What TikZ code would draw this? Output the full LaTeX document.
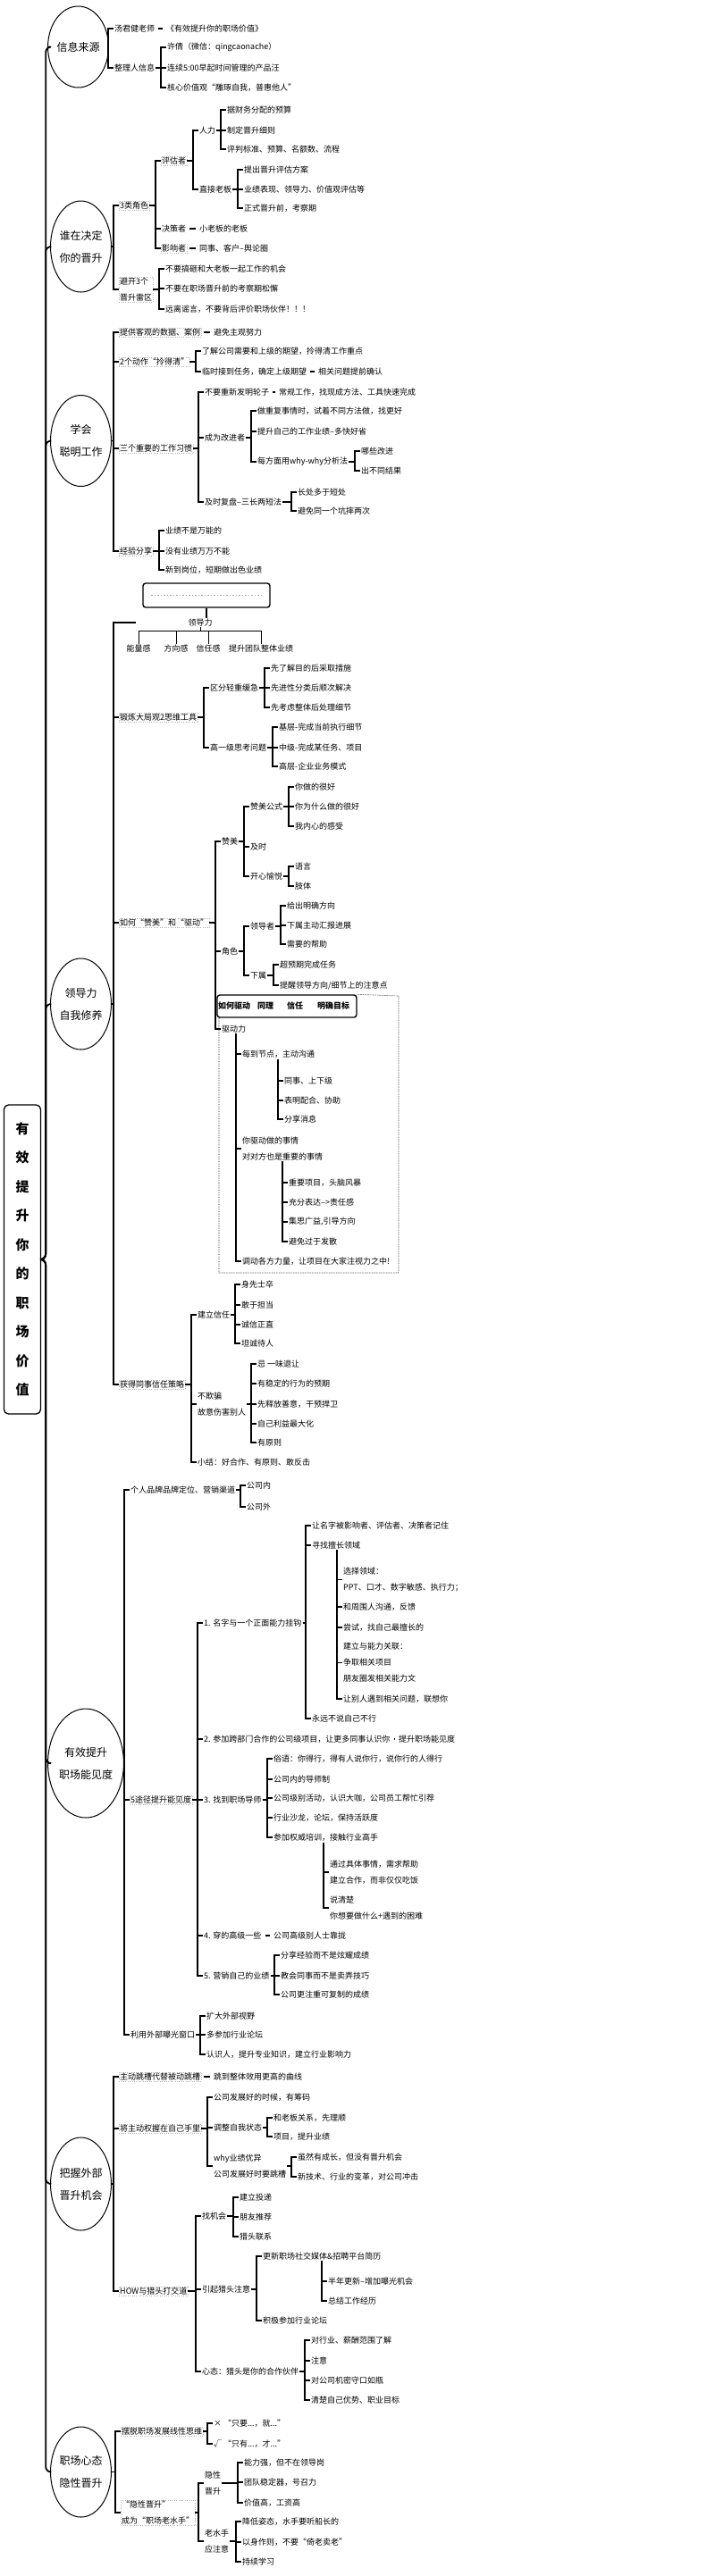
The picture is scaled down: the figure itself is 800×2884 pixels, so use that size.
\documentclass[tikz,border=0pt]{standalone}
\usepackage{fontspec}
\setmainfont{Noto Sans CJK SC}
\usetikzlibrary{calc,shapes.geometric}

\tikzset{
  t/.style={anchor=west,inner sep=1pt,align=left,font=\fontsize{9}{18}\selectfont},
  sel/.style={draw=gray!60,dotted},
  hub/.style={ellipse,draw,line width=1pt,inner sep=0,align=center,font=\fontsize{12}{25}\selectfont},
  root/.style={draw,line width=1.3pt,rounded corners=5pt,inner sep=0,align=center,minimum width=41pt,minimum height=346pt,font=\fontsize{15}{32.5}\selectfont\bfseries},
  br/.style={line width=1.2pt},
  dsh/.style={line width=1.4pt,shorten <=3pt,shorten >=3pt},
  trunk/.style={line width=1.8pt,rounded corners=6pt},
  pt/.style={inner sep=0,minimum size=0},
  frame/.style={densely dotted,line width=0.6pt},
  tab/.style={draw,line width=1.4pt,rounded corners=3pt},
  tabtxt/.style={anchor=west,inner sep=0,font=\fontsize{9}{11}\selectfont\bfseries}
}
\newcommand\brk[2]{\foreach \ch in {#2}{\draw[br] (#1.east) -- ($(#1.east -| \ch.west)+(-6,0)$) |- (\ch.west);}}
\newcommand\hang[2]{\foreach \ch in {#2}{\draw[br] ($(#1.south west -| \ch.west)+(-6,0)$) |- (\ch.west);}}

\begin{document}
\begin{tikzpicture}[x=1pt,y=-1pt]
\useasboundingbox (0,0) rectangle (800,2884);

\node[root] (root) at (25,1410) {有\\效\\提\\升\\你\\的\\职\\场\\价\\值};

\node[hub,minimum width=61pt,minimum height=91pt] (m1) at (87.5,52.5) {信息来源};
\node[hub,minimum width=67pt,minimum height=102pt] (m2) at (90.5,276) {谁在决定\\你的晋升};
\node[hub,minimum width=67pt,minimum height=102pt] (m3) at (90.5,493.5) {学会\\聪明工作};
\node[hub,minimum width=67pt,minimum height=102pt] (m4) at (90.5,1124) {领导力\\自我修养};
\node[hub,minimum width=78pt,minimum height=122pt] (m5) at (96,1974) {有效提升\\职场能见度};
\node[hub,minimum width=67pt,minimum height=104pt] (m6) at (90.5,2445) {把握外部\\晋升机会};
\node[hub,minimum width=67pt,minimum height=101pt] (m7) at (90.5,2767.5) {职场心态\\隐性晋升};
\foreach \m in {m1,m2,m3,m4,m5,m6,m7}
  \draw[trunk] (root.east) -- ++(5,0) |- (\m.west);

% 信息来源
\node[t] (a1) at (127,32) {汤君健老师};
\node[t] (a11) at (185,32) {《有效提升你的职场价值》};
\node[t] (a2) at (127,76) {整理人信息};
\node[t] (a21) at (186,53) {许倩（微信：qingcaonache）};
\node[t] (a22) at (186,76) {连续5:00早起时间管理的产品汪};
\node[t] (a23) at (186,98) {核心价值观“雕琢自我，普惠他人”};
\brk{m1}{a1,a2}
\draw[dsh] (a1) -- (a11);
\brk{a2}{a21,a22,a23}

% 谁在决定你的晋升
\node[t,sel] (b1) at (133,230) {3类角色};
\node[t,sel] (b2) at (133,324) {避开3个\\晋升雷区};
\brk{m2}{b1,b2}
\node[t,sel] (b11) at (180,180) {评估者};
\node[t] (b12) at (180,256) {决策者};
\node[t] (b12a) at (222,256) {小老板的老板};
\node[t,sel] (b13) at (180,278) {影响者};
\node[t] (b13a) at (222,278) {同事、客户--舆论圈};
\brk{b1}{b11,b12,b13}
\draw[dsh] (b12) -- (b12a);
\draw[dsh] (b13) -- (b13a);
\node[t] (b111) at (222,146) {人力};
\node[t] (b112) at (222,212) {直接老板};
\brk{b11}{b111,b112}
\node[t] (b1111) at (253,123) {据财务分配的预算};
\node[t] (b1112) at (253,146) {制定晋升细则};
\node[t] (b1113) at (253,167) {评判标准、预算、名额数、流程};
\brk{b111}{b1111,b1112,b1113}
\node[t] (b1121) at (272,190) {提出晋升评估方案};
\node[t] (b1122) at (272,212) {业绩表现、领导力、价值观评估等};
\node[t] (b1123) at (272,233) {正式晋升前，考察期};
\brk{b112}{b1121,b1122,b1123}
\node[t] (b21) at (184,301) {不要搞砸和大老板一起工作的机会};
\node[t] (b22) at (184,323) {不要在职场晋升前的考察期松懈};
\node[t] (b23) at (184,346) {远离谣言，不要背后评价职场伙伴！！！};
\brk{b2}{b21,b22,b23}

% 学会聪明工作
\node[t,sel] (c1) at (133,372) {提供客观的数据、案例};
\node[t] (c1a) at (238,372) {避免主观努力};
\node[t,sel] (c2) at (133,405) {2个动作“拎得清”};
\node[t,sel] (c3) at (133,502) {三个重要的工作习惯};
\node[t,sel] (c4) at (133,617) {经验分享};
\brk{m3}{c1,c2,c3,c4}
\draw[dsh] (c1) -- (c1a);
\node[t] (c21) at (225,393) {了解公司需要和上级的期望，拎得清工作重点};
\node[t] (c22) at (225,416) {临时接到任务，确定上级期望};
\node[t] (c22a) at (355,416) {相关问题提前确认};
\brk{c2}{c21,c22}
\draw[dsh] (c22) -- (c22a);
\node[t] (c31) at (228,439) {不要重新发明轮子};
\node[t] (c31a) at (311,439) {常规工作，找现成方法、工具快速完成};
\node[t] (c32) at (228,490) {成为改进者};
\node[t] (c33) at (228,562) {及时复盘--三长两短法};
\brk{c3}{c31,c32,c33}
\draw[dsh] (c31) -- (c31a);
\node[t] (c321) at (287,460) {做重复事情时，试着不同方法做，找更好};
\node[t] (c322) at (287,483) {提升自己的工作业绩--多快好省};
\node[t] (c323) at (287,517) {每方面用why-why分析法};
\brk{c32}{c321,c322,c323}
\node[t] (c3231) at (403,505) {哪些改进};
\node[t] (c3232) at (403,527) {出不同结果};
\brk{c323}{c3231,c3232}
\node[t] (c331) at (332,551) {长处多于短处};
\node[t] (c332) at (332,572) {避免同一个坑摔两次};
\brk{c33}{c331,c332}
\node[t] (c41) at (184,594) {业绩不是万能的};
\node[t] (c42) at (184,617) {没有业绩万万不能};
\node[t] (c43) at (184,638) {新到岗位，短期做出色业绩};
\brk{c4}{c41,c42,c43}

% 领导力自我修养
\node[tab,minimum width=142pt,minimum height=27pt] (box1) at (231,666.5) {};
\draw[gray!70,dotted,line width=1.5pt] ($(box1.west)+(10,0)$) -- ($(box1.east)+(-10,0)$);
\node[t,anchor=center] (ld) at (224,697) {领导力};
\node[pt] (ld0) at (152,697) {};
\draw[br] (box1.south) -- (box1.south |- ld.north);
\draw[br] (m4.east) -| ($(ld0)+(-25,0)$) -- (ld0);
\node[t,anchor=center] (ld1) at (155,726) {能量感};
\node[t,anchor=center] (ld2) at (197,726) {方向感};
\node[t,anchor=center] (ld3) at (233,726) {信任感};
\node[t,anchor=center] (ld4) at (292,726) {提升团队整体业绩};
\foreach \ch in {ld1,ld2,ld3,ld4}
  \draw[line width=0.8pt] (ld.south) -- ++(0,4) -| (\ch.north);

\node[t,sel] (d2) at (133,803) {锻炼大局观2思维工具};
\node[t,sel] (d3) at (133,1033) {如何“赞美”和“驱动”};
\node[t,sel] (d4) at (133,1550) {获得同事信任策略};
\brk{m4}{d2,d3,d4}
\node[t] (d21) at (234,770) {区分轻重缓急};
\node[t] (d22) at (234,837) {高一级思考问题};
\brk{d2}{d21,d22}
\node[t] (d211) at (302,748) {先了解目的后采取措施};
\node[t] (d212) at (302,770) {先进性分类后顺次解决};
\node[t] (d213) at (302,792) {先考虑整体后处理细节};
\brk{d21}{d211,d212,d213}
\node[t] (d221) at (311,814) {基层-完成当前执行细节};
\node[t] (d222) at (311,837) {中级-完成某任务、项目};
\node[t] (d223) at (311,858) {高层-企业业务模式};
\brk{d22}{d221,d222,d223}

\node[t] (d31) at (247,942) {赞美};
\node[t] (d32) at (247,1065) {角色};
\node[t] (d33) at (247,1152) {驱动力};
\brk{d3}{d31,d32,d33}
\node[t] (d311) at (279,903) {赞美公式};
\node[t] (d312) at (279,948) {及时};
\node[t] (d313) at (279,981) {开心愉悦};
\brk{d31}{d311,d312,d313}
\node[t] (d3111) at (329,881) {你做的很好};
\node[t] (d3112) at (329,903) {你为什么做的很好};
\node[t] (d3113) at (329,925) {我内心的感受};
\brk{d311}{d3111,d3112,d3113}
\node[t] (d3131) at (329,970) {语言};
\node[t] (d3132) at (329,992) {肢体};
\brk{d313}{d3131,d3132}
\node[t] (d321) at (279,1037) {领导者};
\node[t] (d322) at (279,1092) {下属};
\brk{d32}{d321,d322}
\node[t] (d3211) at (320,1014) {给出明确方向};
\node[t] (d3212) at (320,1036) {下属主动汇报进展};
\node[t] (d3213) at (320,1057) {需要的帮助};
\brk{d321}{d3211,d3212,d3213}
\node[t] (d3221) at (312,1080) {超预期完成任务};
\node[t] (d3222) at (312,1103) {提醒领导方向/细节上的注意点};
\brk{d322}{d3221,d3222}

\node[tab,minimum width=156pt,minimum height=25pt] (box2) at (321,1126.5) {};
\node[tabtxt] (q1) at (244,1126.5) {如何驱动};
\node[tabtxt] (q2) at (288,1126.5) {同理};
\node[tabtxt] (q3) at (321,1126.5) {信任};
\node[tabtxt] (q4) at (355,1126.5) {明确目标};
\draw[frame] (box2.north east) -- (446,1115) -- (446,1425) -- (245,1425) -- (245,1139);
\node[t] (d331) at (270,1180) {每到节点，主动沟通};
\node[t] (d332) at (270,1286) {你驱动做的事情\\对对方也是重要的事情};
\node[t] (d333) at (270,1412) {调动各方力量，让项目在大家注视力之中!};
\hang{d33}{d331,d332,d333}
\node[t] (d3311) at (317,1210) {同事、上下级};
\node[t] (d3312) at (317,1232) {表明配合、协助};
\node[t] (d3313) at (317,1253) {分享消息};
\hang{d331}{d3311,d3312,d3313}
\node[t] (d3321) at (322,1324) {重要项目，头脑风暴};
\node[t] (d3322) at (322,1346) {充分表达-->责任感};
\node[t] (d3323) at (322,1368) {集思广益,引导方向};
\node[t] (d3324) at (322,1390) {避免过于发散};
\hang{d332}{d3321,d3322,d3323,d3324}

\node[t] (d41) at (220,1472) {建立信任};
\node[t] (d42) at (220,1572) {不欺骗\\故意伤害别人};
\node[t] (d43) at (220,1637) {小结：好合作、有原则、敢反击};
\brk{d4}{d41,d42,d43}
\node[t] (d411) at (269,1438) {身先士卒};
\node[t] (d412) at (269,1461) {敢于担当};
\node[t] (d413) at (269,1483) {诚信正直};
\node[t] (d414) at (269,1504) {坦诚待人};
\brk{d41}{d411,d412,d413,d414}
\node[t] (d421) at (287,1527) {忌 一味退让};
\node[t] (d422) at (287,1549) {有稳定的行为的预期};
\node[t] (d423) at (287,1572) {先释放善意，干预捍卫};
\node[t] (d424) at (287,1594) {自己利益最大化};
\node[t] (d425) at (287,1615) {有原则};
\brk{d42}{d421,d422,d423,d424,d425}

% 有效提升职场能见度
\node[t] (e1) at (145,1668) {个人品牌品牌定位、营销渠道};
\node[t,sel] (e2) at (145,2015) {5途径提升能见度};
\node[t] (e3) at (145,2278) {利用外部曝光窗口};
\brk{m5}{e1,e2,e3}
\node[t] (e11) at (275,1663) {公司内};
\node[t] (e12) at (275,1687) {公司外};
\brk{e1}{e11,e12}
\node[t] (e21) at (227,1817) {1. 名字与一个正面能力挂钩};
\node[t] (e22) at (227,1947) {2. 参加跨部门合作的公司级项目，让更多同事认识你};
\node[t] (e22a) at (445,1947) {提升职场能见度};
\node[t] (e23) at (227,2015) {3. 找到职场导师};
\node[t] (e24) at (227,2167) {4. 穿的高级一些};
\node[t] (e24a) at (305,2167) {公司高级别人士靠拢};
\node[t] (e25) at (227,2212) {5. 营销自己的业绩};
\brk{e2}{e21,e22,e23,e24,e25}
\draw[dsh] (e22) -- (e22a);
\draw[dsh] (e24) -- (e24a);
\node[t] (e211) at (348,1708) {让名字被影响者、评估者、决策者记住};
\node[t] (e212) at (348,1730) {寻找擅长领域};
\node[t] (e213) at (348,1924) {永远不说自己不行};
\brk{e21}{e211,e212,e213}
\node[t] (e2121) at (383,1768.5) {选择领域：\\PPT、口才、数字敏感、执行力；};
\node[t] (e2122) at (383,1799) {和周围人沟通，反馈};
\node[t] (e2123) at (383,1822) {尝试，找自己最擅长的};
\node[t] (e2124) at (383,1861.5) {建立与能力关联：\\争取相关项目\\朋友圈发相关能力文};
\node[t] (e2125) at (383,1902) {让别人遇到相关问题，联想你};
\hang{e212}{e2121,e2122,e2123,e2124,e2125}
\node[t] (e231) at (305,1969) {俗语：你得行，得有人说你行，说你行的人得行};
\node[t] (e232) at (305,1992) {公司内的导师制};
\node[t] (e233) at (305,2013) {公司级别活动，认识大咖，公司员工帮忙引荐};
\node[t] (e234) at (305,2035) {行业沙龙，论坛，保持活跃度};
\node[t] (e235) at (305,2057) {参加权威培训，接触行业高手};
\brk{e23}{e231,e232,e233,e234,e235}
\node[t] (e2351) at (368,2096) {通过具体事情，需求帮助\\建立合作，而非仅仅吃饭};
\node[t] (e2352) at (368,2136) {说清楚\\你想要做什么+遇到的困难};
\hang{e235}{e2351,e2352}
\node[t] (e251) at (313,2189) {分享经验而不是炫耀成绩};
\node[t] (e252) at (313,2212) {教会同事而不是卖弄技巧};
\node[t] (e253) at (313,2233) {公司更注重可复制的成绩};
\brk{e25}{e251,e252,e253}
\node[t] (e31) at (230,2257) {扩大外部视野};
\node[t] (e32) at (230,2278) {多参加行业论坛};
\node[t] (e33) at (230,2300) {认识人，提升专业知识，建立行业影响力};
\brk{e3}{e31,e32,e33}

% 把握外部晋升机会
\node[t,sel] (f1) at (133,2325) {主动跳槽代替被动跳槽};
\node[t] (f1a) at (238,2325) {跳到整体效用更高的曲线};
\node[t,sel] (f2) at (133,2383) {将主动权握在自己手里};
\node[t,sel] (f3) at (133,2565) {HOW与猎头打交道};
\brk{m6}{f1,f2,f3}
\draw[dsh] (f1) -- (f1a);
\node[t] (f21) at (238,2348) {公司发展好的时候，有筹码};
\node[t] (f22) at (238,2382) {调整自我状态};
\node[t] (f23) at (238,2425) {why业绩优异\\公司发展好时要跳槽};
\brk{f2}{f21,f22,f23}
\node[t] (f221) at (305,2371) {和老板关系，先理顺};
\node[t] (f222) at (305,2392) {项目，提升业绩};
\brk{f22}{f221,f222}
\node[t] (f231) at (332,2415) {虽然有成长，但没有晋升机会};
\node[t] (f232) at (332,2437) {新技术、行业的变革，对公司冲击};
\brk{f23}{f231,f232}
\node[t] (f31) at (225,2481) {找机会};
\node[t] (f32) at (225,2563) {引起猎头注意};
\node[t] (f33) at (225,2655) {心态：猎头是你的合作伙伴};
\brk{f3}{f31,f32,f33}
\node[t] (f311) at (267,2460) {建立投递};
\node[t] (f312) at (267,2482) {朋友推荐};
\node[t] (f313) at (267,2504) {猎头联系};
\brk{f31}{f311,f312,f313}
\node[t] (f321) at (293,2526) {更新职场社交媒体\&招聘平台简历};
\node[t] (f322) at (293,2598) {积极参加行业论坛};
\brk{f32}{f321,f322}
\node[t] (f3211) at (366,2554) {半年更新--增加曝光机会};
\node[t] (f3212) at (366,2576) {总结工作经历};
\hang{f321}{f3211,f3212}
\node[t] (f331) at (347,2620) {对行业、薪酬范围了解};
\node[t] (f332) at (347,2643) {注意};
\node[t] (f333) at (347,2665) {对公司机密守口如瓶};
\node[t] (f334) at (347,2687) {清楚自己优势、职业目标};
\brk{f33}{f331,f332,f333,f334}

% 职场心态隐性晋升
\node[t,sel] (g1) at (135,2722) {摆脱职场发展线性思维};
\node[t,sel] (g2) at (135,2813) {“隐性晋升”\\成为“职场老水手”};
\brk{m7}{g1,g2}
\node[t] (g11) at (238,2713) {× “只要...，就...”};
\node[t] (g12) at (238,2736) {√ “只有...，才...”};
\brk{g1}{g11,g12}
\node[t,align=center] (g21) at (228,2780) {隐性\\晋升};
\node[t,align=center] (g22) at (228,2845) {老水手\\应注意};
\brk{g2}{g21,g22}
\node[t] (g211) at (272,2757) {能力强，但不在领导岗};
\node[t] (g212) at (272,2779) {团队稳定器，号召力};
\node[t] (g213) at (272,2802) {价值高，工资高};
\brk{g21}{g211,g212,g213}
\node[t] (g221) at (270,2823) {降低姿态，水手要听船长的};
\node[t] (g222) at (270,2846) {以身作则，不要“倚老卖老”};
\node[t] (g223) at (270,2868) {持续学习};
\brk{g22}{g221,g222,g223}

\end{tikzpicture}
\end{document}
